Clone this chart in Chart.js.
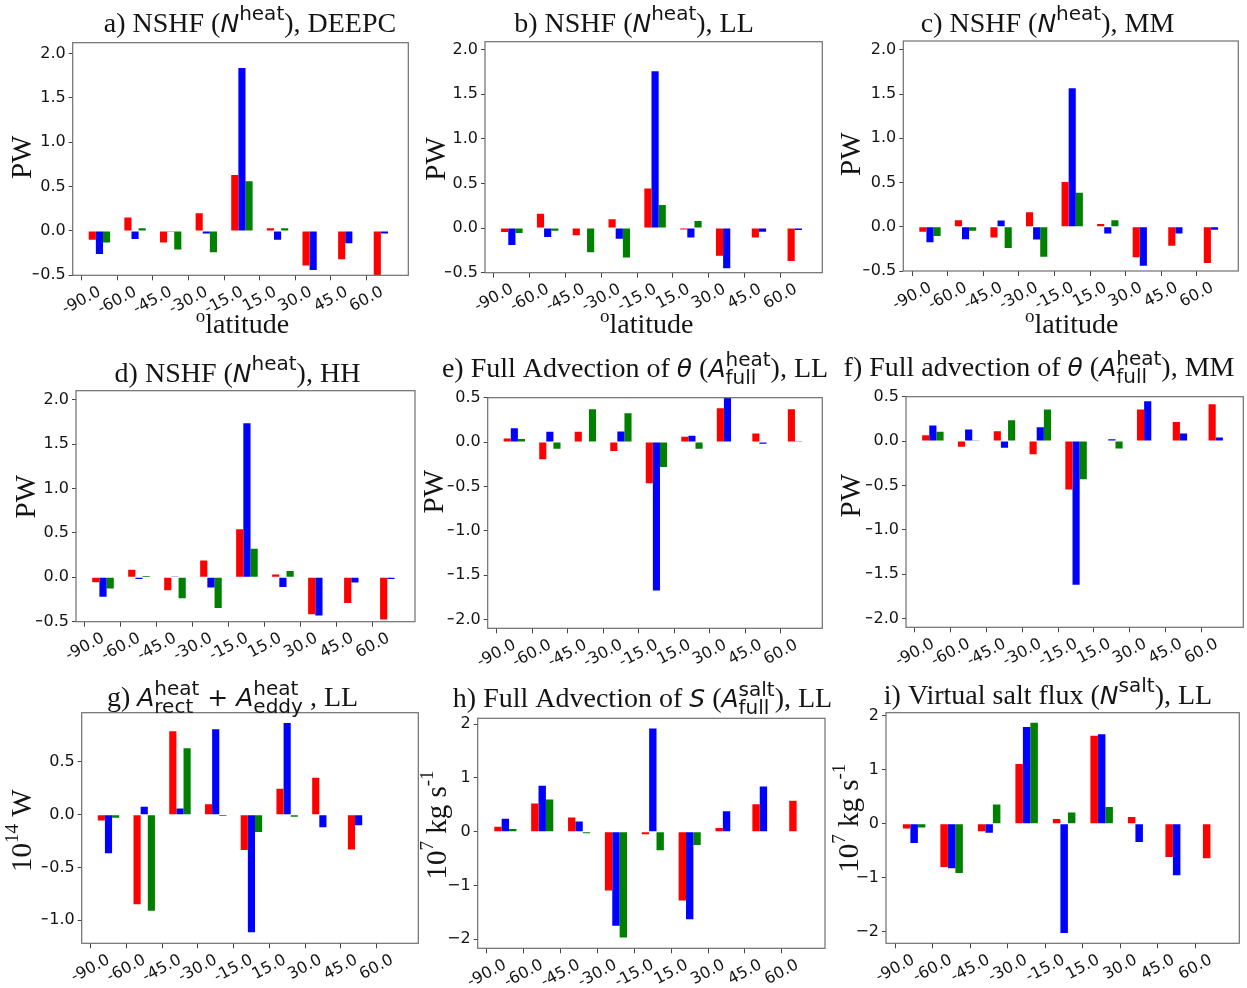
<!DOCTYPE html>
<html>
<head>
<meta charset="utf-8">
<title>Heat and salt budget terms by latitude band</title>
<script src="https://cdn.jsdelivr.net/npm/chart.js@4.4.1/dist/chart.umd.min.js"></script>
<style>
  html, body { margin: 0; padding: 0; background: #ffffff; }
  body { width: 1247px; height: 988px; position: relative; overflow: hidden; }
  canvas { position: absolute; }
</style>
</head>
<body>
<script>
// ---- latitude bands (x tick labels) ----
const LATITUDES = ['-90.0', '-60.0', '-45.0', '-30.0', '-15.0', '15.0', '30.0', '45.0', '60.0'];

// ---- y tick values ----
const HEAT_TICKS = [-0.5, 0, 0.5, 1.0, 1.5, 2.0];
const ADV_TICKS = [-2.0, -1.5, -1.0, -0.5, 0, 0.5];
const RECT_TICKS = [-1.0, -0.5, 0, 0.5];
const SALT_TICKS = [-2, -1, 0, 1, 2];

// ---- a) NSHF, DEEPC (PW) ----
const A_RED   = [-0.10, 0.15, -0.13, 0.20, 0.63, 0.03, -0.39, -0.32, -0.52];
const A_BLUE  = [-0.26, -0.09, -0.005, -0.03, 1.835, -0.10, -0.44, -0.14, -0.03];
const A_GREEN = [-0.13, 0.03, -0.21, -0.24, 0.56, 0.03, null, null, null];

// ---- b) NSHF, LL (PW) ----
const B_RED   = [-0.045, 0.16, -0.08, 0.10, 0.445, -0.015, -0.31, -0.105, -0.37];
const B_BLUE  = [-0.19, -0.10, -0.005, -0.12, 1.76, -0.105, -0.45, -0.04, -0.02];
const B_GREEN = [-0.055, -0.03, -0.27, -0.33, 0.26, 0.08, null, null, null];

// ---- c) NSHF, MM (PW) ----
const C_RED   = [-0.055, 0.075, -0.12, 0.165, 0.505, 0.03, -0.345, -0.215, -0.41];
const C_BLUE  = [-0.175, -0.14, 0.07, -0.145, 1.565, -0.075, -0.44, -0.075, -0.035];
const C_GREEN = [-0.105, -0.045, -0.24, -0.34, 0.385, 0.075, null, null, null];

// ---- d) NSHF, HH (PW) ----
const D_RED   = [-0.055, 0.085, -0.145, 0.19, 0.54, 0.03, -0.415, -0.29, -0.475];
const D_BLUE  = [-0.22, -0.02, 0.01, -0.115, 1.735, -0.11, -0.43, -0.06, -0.02];
const D_GREEN = [-0.125, 0.015, -0.235, -0.345, 0.32, 0.07, null, null, null];

// ---- e) full advection of theta, LL (PW) ----
const E_RED   = [0.04, -0.195, 0.115, -0.10, -0.465, 0.06, 0.38, 0.095, 0.37];
const E_BLUE  = [0.155, 0.115, -0.005, 0.12, -1.675, 0.07, 0.50, -0.02, 0.01];
const E_GREEN = [0.035, -0.075, 0.37, 0.325, -0.28, -0.075, null, null, null];

// ---- f) full advection of theta, MM (PW) ----
const F_RED   = [0.065, -0.065, 0.11, -0.15, -0.545, 0.005, 0.355, 0.215, 0.415];
const F_BLUE  = [0.175, 0.13, -0.075, 0.155, -1.62, 0.02, 0.45, 0.085, 0.04];
const F_GREEN = [0.105, 0.01, 0.235, 0.355, -0.43, -0.085, null, null, null];

// ---- g) rectified + eddy heat advection, LL (1e14 W) ----
const G_RED   = [-0.055, -0.85, 0.79, 0.10, -0.335, 0.245, 0.35, -0.33, 0.005];
const G_BLUE  = [-0.365, 0.075, 0.06, 0.81, -1.115, 0.87, -0.12, -0.10, 0.005];
const G_GREEN = [-0.03, -0.91, 0.63, -0.012, -0.165, -0.02, null, null, null];

// ---- h) full advection of S, LL (1e7 kg/s) ----
const H_RED   = [0.09, 0.525, 0.265, -1.095, -0.05, -1.28, 0.07, 0.51, 0.575];
const H_BLUE  = [0.24, 0.855, 0.19, -1.75, 1.92, -1.63, 0.38, 0.84, 0.01];
const H_GREEN = [0.05, 0.60, -0.03, -1.97, -0.345, -0.25, null, null, null];

// ---- i) virtual salt flux, LL (1e7 kg/s) ----
const I_RED   = [-0.09, -0.80, -0.14, 1.10, 0.085, 1.625, 0.125, -0.615, -0.64];
const I_BLUE  = [-0.355, -0.825, -0.17, 1.785, -2.02, 1.65, -0.34, -0.955, null];
const I_GREEN = [-0.07, -0.91, 0.355, 1.865, 0.205, 0.31, null, null, null];

// ---- styling ----
const RED = '#ff0000', BLUE = '#0000ff', GREEN = '#008000';
const INK = '#141414', SPINE = '#6e6e6e', TICK = '#444444';
const SERIF = '"Liberation Serif", "Times New Roman", serif';
const SANS = '"DejaVu Sans", sans-serif';
const TITLE_PX = 28, YLABEL_PX = 29, MATH_PX = 25, SCRIPT_PX = 20, TICK_PX = 16;
const ROT = 28 * Math.PI / 180;     // x tick label rotation
const GROUP_CENTER = 0.5;           // bar groups sit half a step right of each tick
const X_MIN = -0.25, X_MAX = 9.17;
const Y_AXIS_W = 40, X_AXIS_H = 6;

// rich-text pieces for titles and axis labels
const rm  = (t, px = TITLE_PX) => ({ t, font: `${px}px ${SERIF}` });
const mi  = t => ({ t, font: `italic ${MATH_PX}px ${SANS}` });
const op  = t => ({ t, font: `${MATH_PX}px ${SANS}` });
const sup = t => ({ t, font: `${SCRIPT_PX}px ${SANS}`, dy: -12 });
const rsup = (t, px = 19, dy = -13) => ({ t, font: `${px}px ${SERIF}`, dy });
const stk = (up, dn) => ({ up, dn, font: `${SCRIPT_PX}px ${SANS}`, upDy: -11, dnDy: 7 });

function partWidth(ctx, p) {
  ctx.font = p.font;
  if (p.up !== undefined) return Math.max(ctx.measureText(p.up).width, ctx.measureText(p.dn).width);
  return ctx.measureText(p.t).width;
}

function drawRich(ctx, parts, x, y, rot) {
  const total = parts.reduce((s, p) => s + partWidth(ctx, p), 0);
  ctx.save();
  ctx.translate(x, y);
  if (rot) ctx.rotate(rot);
  ctx.fillStyle = INK;
  ctx.textAlign = 'left';
  ctx.textBaseline = 'alphabetic';
  let cx = -total / 2;
  parts.forEach(p => {
    const w = partWidth(ctx, p);
    ctx.font = p.font;
    if (p.up !== undefined) {
      ctx.fillText(p.up, cx, p.upDy);
      ctx.fillText(p.dn, cx, p.dnDy);
    } else {
      ctx.fillText(p.t, cx, p.dy || 0);
    }
    cx += w;
  });
  ctx.restore();
}

// frame, rotated latitude labels, title and axis labels
const panelText = {
  id: 'panelText',
  afterDraw(chart, args, opts) {
    const { ctx, chartArea: a } = chart;
    const ox = opts.origin[0], oy = opts.origin[1];
    ctx.save();
    ctx.strokeStyle = SPINE;
    ctx.lineWidth = 1.2;
    ctx.strokeRect(a.left, a.top, a.right - a.left, a.bottom - a.top);

    const xs = chart.scales.x;
    ctx.fillStyle = INK;
    ctx.font = `${TICK_PX}px ${SANS}`;
    ctx.textAlign = 'center';
    ctx.textBaseline = 'middle';
    LATITUDES.forEach((lab, i) => {
      const px = xs.getPixelForValue(i);
      const w = ctx.measureText(lab).width;
      const h = TICK_PX * 0.95;
      const H = w * Math.sin(ROT) + h * Math.cos(ROT);
      ctx.save();
      ctx.translate(px, a.bottom + 9 + H / 2);
      ctx.rotate(-ROT);
      ctx.fillText(lab, 0, 0);
      ctx.restore();
    });
    ctx.restore();

    drawRich(ctx, opts.title, opts.titleAt[0] - ox, opts.titleAt[1] - oy, 0);
    drawRich(ctx, opts.ylabel, opts.ylabelAt[0] - ox, opts.ylabelAt[1] - oy, -Math.PI / 2);
    if (opts.xlabel) drawRich(ctx, opts.xlabel, opts.xlabelAt[0] - ox, opts.xlabelAt[1] - oy, 0);
  }
};

const fmt = (v, dec) => (dec > 0 ? v.toFixed(dec) : String(Math.round(v))).replace('-', '\u2212');
const toXY = vals => vals.map((y, i) => ({ x: i + GROUP_CENTER, y }));

const PW = [rm('PW', YLABEL_PX)];
const LAT = [rsup('o', 19, -11), rm('latitude')];
const W14 = [rm('10', YLABEL_PX), rsup('14'), rm(' W', YLABEL_PX)];
const KGS = [rm('10', YLABEL_PX), rsup('7'), rm(' kg s', YLABEL_PX), rsup('-1')];

// canvas boxes: [left, width] per column, [top, height] per row; plot area: [left, top, right, bottom]
const COL = [[0, 425], [415, 425], [830, 417]];
const ROW = [[0, 345], [338, 337], [668, 320]];

const PANELS = [
  { cell: [0, 0], area: [72.7, 42.7, 408.3, 275.3], y: [-0.5, 2.12], ticks: HEAT_TICKS, dec: 1,
    series: [A_RED, A_BLUE, A_GREEN],
    title: [rm('a) NSHF ('), mi('N'), sup('heat'), rm('), DEEPC')], titleAt: [250, 32.3],
    ylabel: PW, ylabelAt: [31, 157.3], xlabel: LAT, xlabelAt: [242.5, 333] },
  { cell: [1, 0], area: [485, 41.7, 822.3, 272.7], y: [-0.5, 2.09], ticks: HEAT_TICKS, dec: 1,
    series: [B_RED, B_BLUE, B_GREEN],
    title: [rm('b) NSHF ('), mi('N'), sup('heat'), rm('), LL')], titleAt: [634, 31.7],
    ylabel: PW, ylabelAt: [445, 159], xlabel: LAT, xlabelAt: [646.7, 333] },
  { cell: [2, 0], area: [903.3, 41, 1238.3, 271], y: [-0.5, 2.10], ticks: HEAT_TICKS, dec: 1,
    series: [C_RED, C_BLUE, C_GREEN],
    title: [rm('c) NSHF ('), mi('N'), sup('heat'), rm('), MM')], titleAt: [1047.5, 32.3],
    ylabel: PW, ylabelAt: [860, 154.2], xlabel: LAT, xlabelAt: [1071.7, 333] },
  { cell: [0, 1], area: [76, 390.7, 415, 621.7], y: [-0.5, 2.10], ticks: HEAT_TICKS, dec: 1,
    series: [D_RED, D_BLUE, D_GREEN],
    title: [rm('d) NSHF ('), mi('N'), sup('heat'), rm('), HH')], titleAt: [237.5, 382.3],
    ylabel: PW, ylabelAt: [35, 496.7] },
  { cell: [1, 1], area: [487.7, 397.7, 822.3, 628.3], y: [-2.10, 0.5], ticks: ADV_TICKS, dec: 1,
    series: [E_RED, E_BLUE, E_GREEN],
    title: [rm('e) Full Advection of '), mi('\u03B8'), rm(' ('), mi('A'), stk('heat', 'full'), rm('), LL')], titleAt: [635, 377.3],
    ylabel: PW, ylabelAt: [443, 491.7] },
  { cell: [2, 1], area: [906, 396.7, 1243.3, 627.3], y: [-2.10, 0.5], ticks: ADV_TICKS, dec: 1,
    series: [F_RED, F_BLUE, F_GREEN],
    title: [rm('f) Full advection of '), mi('\u03B8'), rm(' ('), mi('A'), stk('heat', 'full'), rm('), MM')], titleAt: [1039, 376],
    ylabel: PW, ylabelAt: [860, 495.7] },
  { cell: [0, 2], area: [81.7, 712.7, 418.3, 943.3], y: [-1.219, 0.967], ticks: RECT_TICKS, dec: 1,
    series: [G_RED, G_BLUE, G_GREEN],
    title: [rm('g) '), mi('A'), stk('heat', 'rect'), op(' + '), mi('A'), stk('heat', 'eddy'), rm(' , LL')], titleAt: [232.5, 706],
    ylabel: W14, ylabelAt: [31, 830.7] },
  { cell: [1, 2], area: [477.7, 718.3, 825, 948.3], y: [-2.17, 2.11], ticks: SALT_TICKS, dec: 0,
    series: [H_RED, H_BLUE, H_GREEN],
    title: [rm('h) Full Advection of '), mi('S'), rm(' ('), mi('A'), stk('salt', 'full'), rm('), LL')], titleAt: [642.5, 706.7],
    ylabel: KGS, ylabelAt: [446, 825] },
  { cell: [2, 2], area: [886, 712.7, 1239.3, 943.3], y: [-2.21, 2.05], ticks: SALT_TICKS, dec: 0,
    series: [I_RED, I_BLUE, I_GREEN],
    title: [rm('i) Virtual salt flux ('), mi('N'), sup('salt'), rm('), LL')], titleAt: [1048, 704.3],
    ylabel: KGS, ylabelAt: [858, 818.3] }
];

const SERIES_STYLE = [
  { label: 'run 1', color: RED },
  { label: 'run 2', color: BLUE },
  { label: 'run 3', color: GREEN }
];

PANELS.forEach(p => {
  const [cx, cw] = COL[p.cell[0]];
  const [cy, ch] = ROW[p.cell[1]];
  const [L, T, R, B] = p.area;
  const canvas = document.createElement('canvas');
  canvas.width = cw;
  canvas.height = ch;
  canvas.style.left = cx + 'px';
  canvas.style.top = cy + 'px';
  canvas.style.width = cw + 'px';
  canvas.style.height = ch + 'px';
  document.body.appendChild(canvas);

  new Chart(canvas, {
    type: 'bar',
    data: {
      datasets: p.series.map((vals, k) => ({
        label: SERIES_STYLE[k].label,
        data: toXY(vals),
        backgroundColor: SERIES_STYLE[k].color,
        borderWidth: 0,
        categoryPercentage: 0.6,
        barPercentage: 1.0,
        clip: 0
      }))
    },
    options: {
      responsive: false,
      maintainAspectRatio: false,
      animation: false,
      events: [],
      devicePixelRatio: 1,
      layout: {
        padding: {
          left: L - cx - Y_AXIS_W,
          top: T - cy,
          right: cx + cw - R,
          bottom: cy + ch - B - X_AXIS_H
        }
      },
      plugins: {
        legend: { display: false },
        tooltip: { enabled: false },
        panelText: {
          origin: [cx, cy],
          title: p.title, titleAt: p.titleAt,
          ylabel: p.ylabel, ylabelAt: p.ylabelAt,
          xlabel: p.xlabel, xlabelAt: p.xlabelAt
        }
      },
      scales: {
        x: {
          type: 'linear',
          offset: false,
          min: X_MIN,
          max: X_MAX,
          afterBuildTicks: s => { s.ticks = LATITUDES.map((_, i) => ({ value: i })); },
          afterFit: s => { s.height = X_AXIS_H; },
          ticks: { display: false },
          grid: { offset: false, drawOnChartArea: false, drawTicks: true, tickLength: 5, color: TICK, lineWidth: 1 },
          border: { display: false }
        },
        y: {
          type: 'linear',
          min: p.y[0],
          max: p.y[1],
          afterBuildTicks: s => { s.ticks = p.ticks.map(v => ({ value: v })); },
          afterFit: s => { s.width = Y_AXIS_W; },
          ticks: {
            font: { family: 'DejaVu Sans', size: TICK_PX },
            color: INK,
            padding: 3,
            callback: v => fmt(v, p.dec)
          },
          grid: { drawOnChartArea: false, drawTicks: true, tickLength: 4, color: TICK, lineWidth: 1 },
          border: { display: false }
        }
      }
    },
    plugins: [panelText]
  });
});
</script>
</body>
</html>
